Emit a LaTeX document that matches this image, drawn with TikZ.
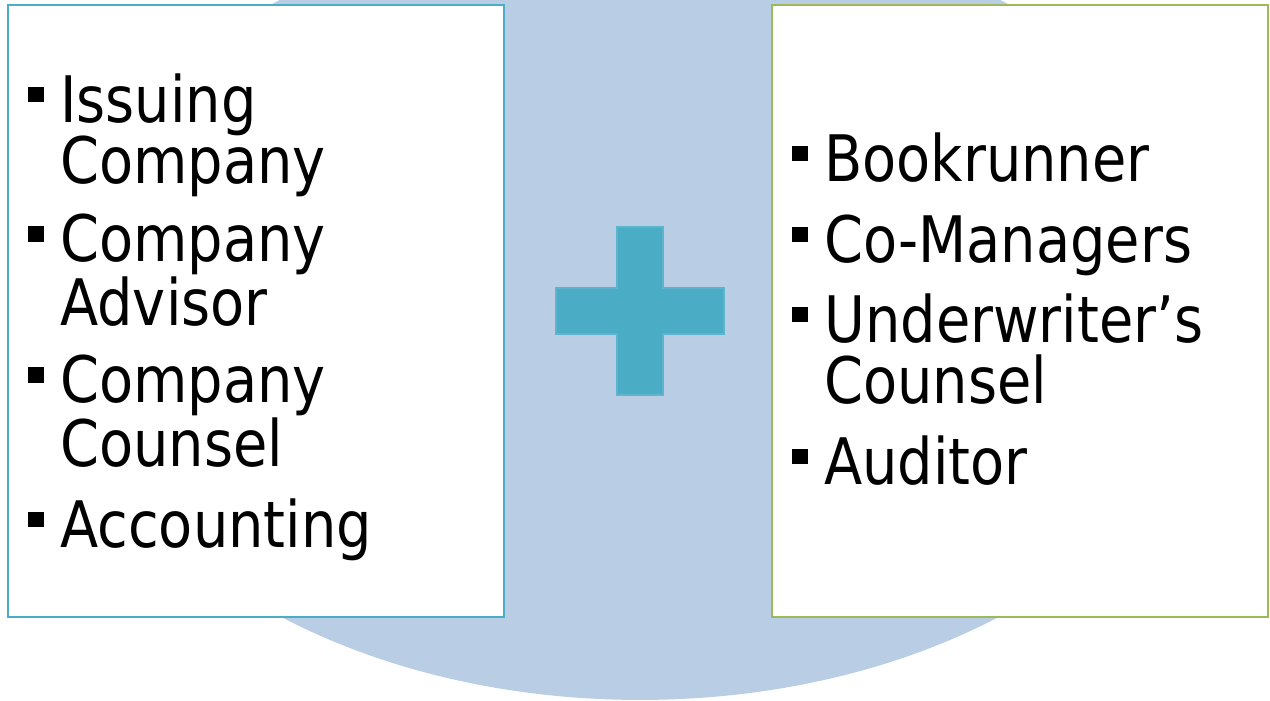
\documentclass[tikz,border=0pt]{standalone}
\usepackage{fontspec}
\setmainfont[FakeStretch=0.87]{DejaVu Sans}
\usepackage{tikz}
\usetikzlibrary{positioning}

\definecolor{ovalblue}{HTML}{B9CDE5}
\definecolor{plusblue}{HTML}{4BACC6}
\definecolor{boxgreen}{HTML}{9BBB59}

\newcommand{\sqbullet}{\llap{\rule[11.2pt]{9pt}{9pt}\hspace{9.5pt}}}

\tikzset{
  partybox/.style={draw, line width=1.1pt, fill=white, minimum width=9.92cm, minimum height=12.24cm, inner sep=0pt},
  party/.style={anchor=base west, align=left, inner sep=0pt, font=\fontsize{36.5pt}{34.7pt}\selectfont}
}

\begin{document}
\begin{tikzpicture}[x=0.02cm, y=-0.02cm]
        \useasboundingbox (0,0) rectangle (1270,700);
        \clip (0,0) rectangle (1270,700);

        % Oval behind
        \fill[ovalblue] (640,308) ellipse [x radius=11.66cm, y radius=7.84cm];

        % Boxes
        \node[partybox, draw=plusblue] (issuer) at (256,311) {};
        \node[partybox, draw=boxgreen] (underwriter) at (1020,311) {};

        % Plus
        \filldraw[fill=plusblue, draw=plusblue!90!white, line width=0.6pt] (617,227) -- (663,227) -- (663,288) -- (724,288) -- (724,334) -- (663,334) -- (663,395) -- (617,395) -- (617,334) -- (556,334) -- (556,288) -- (617,288) -- cycle;

        % Issuer side (base = last line)
        \node[party] (issuing) at (60,183) {\sqbullet Issuing\\Company};
        \node[party] (advisor) at (60,325) {\sqbullet Company\\Advisor};
        \node[party] (counsel) at (60,466) {\sqbullet Company\\Counsel};
        \node[party] (accounting) at (60,547) {\sqbullet Accounting};

        % Underwriter side
        \node[party] (bookrunner) at (824,181) {\sqbullet Bookrunner};
        \node[party] (comanagers) at (824,262) {\sqbullet Co-Managers};
        \node[party] (uwcounsel) at (824,403) {\sqbullet Underwriter’s\\Counsel};
        \node[party] (auditor) at (824,484) {\sqbullet Auditor};
    \end{tikzpicture}
\end{document}
